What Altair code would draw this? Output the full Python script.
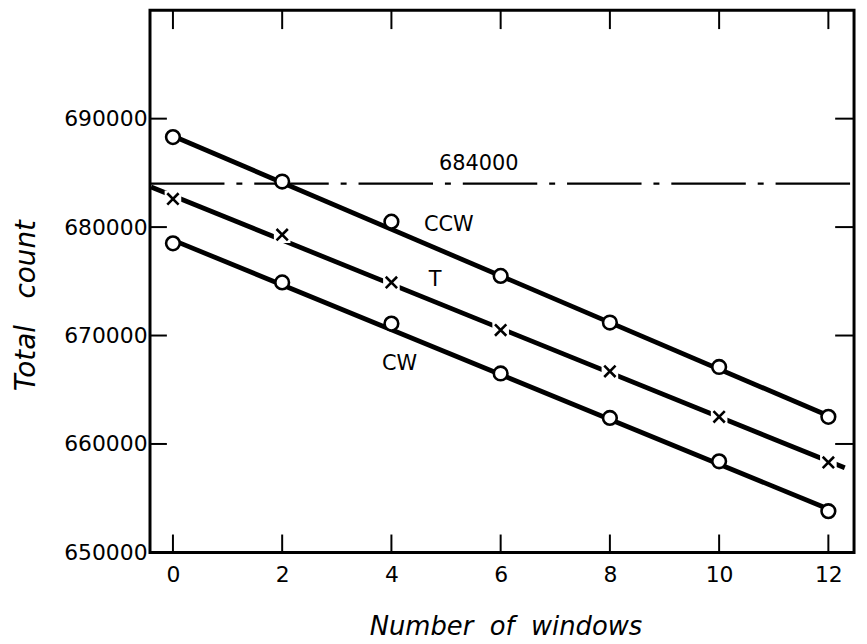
import altair as alt
import pandas as pd

# ---- data ----
windows = [0, 2, 4, 6, 8, 10, 12]
ccw = [688300, 684200, 680500, 675500, 671200, 667100, 662500]
t_vals = [682600, 679300, 674900, 670500, 666700, 662500, 658300]
cw = [678500, 674900, 671100, 666500, 662400, 658400, 653800]

# fitted straight lines (end points)
ccw_fit_x = [0, 12]
ccw_fit_y = [688400, 662600]
t_fit_x = [-0.4, 12.3]
t_fit_y = [683700, 657800]
cw_fit_x = [0, 12]
cw_fit_y = [678800, 654000]

ref_level = [684000]

label_text = ["684000", "CCW", "T", "CW"]
label_x = [5.6, 5.05, 4.8, 4.15]
label_y = [685800, 680200, 675100, 667400]

x_ticks = [0, 2, 4, 6, 8, 10, 12]
y_ticks = [650000, 660000, 670000, 680000, 690000]
y_inner_ticks = [660000, 670000, 680000, 690000]

x_title = "Number\u00a0 of\u00a0 windows"
y_title = "Total\u00a0\u00a0 count"

W, H = 709, 546
FONT = "DejaVu Sans"
xs = alt.Scale(domain=[-0.42, 12.47], nice=False, zero=False)
ys = alt.Scale(domain=[650000, 700000], nice=False, zero=False)

X = alt.X("x:Q", scale=xs, title=x_title,
          axis=alt.Axis(values=x_ticks, format="d", grid=False, domain=False, ticks=False,
                        labelFont=FONT, labelFontSize=22, labelColor="black", labelPadding=12,
                        titleFont=FONT, titleFontSize=26, titleFontStyle="italic",
                        titleFontWeight="normal", titleColor="black",
                        titleX=358, titleY=75, titleBaseline="middle", titleAlign="center"))
Y = alt.Y("y:Q", scale=ys, title=y_title,
          axis=alt.Axis(values=y_ticks, format="d", grid=False, domain=False, ticks=False,
                        labelFont=FONT, labelFontSize=22, labelColor="black", labelPadding=3,
                        titleFont=FONT, titleFontSize=28, titleFontStyle="italic",
                        titleFontWeight="normal", titleColor="black",
                        titleX=-124, titleY=297, titleAngle=270,
                        titleBaseline="middle", titleAlign="center"))

fit_df = pd.DataFrame(
    {"x": ccw_fit_x + t_fit_x + cw_fit_x,
     "y": ccw_fit_y + t_fit_y + cw_fit_y,
     "s": ["CCW"] * 2 + ["T"] * 2 + ["CW"] * 2}
)
circ_df = pd.DataFrame({"x": windows + windows, "y": ccw + cw})
t_df = pd.DataFrame({"x": windows, "y": t_vals})
lab_df = pd.DataFrame({"t": label_text, "x": label_x, "y": label_y})
xt_df = pd.DataFrame({"x": x_ticks})
yt_df = pd.DataFrame({"y": y_inner_ticks})
h_df = pd.DataFrame({"y": ref_level})

hline = alt.Chart(h_df).mark_rule(color="black", strokeWidth=2.2, strokeDash=[75, 12, 6, 12]).encode(
    y=Y, x=alt.value(0), x2=alt.value(W)
)

lines = alt.Chart(fit_df).mark_line(color="black", strokeWidth=4.8, clip=True).encode(
    x=X, y=Y, detail="s:N",
)

gaps = alt.Chart(t_df).mark_point(shape="square", filled=True, color="white", opacity=1, size=280).encode(
    x=X, y=Y
)

crosses = alt.Chart(t_df).mark_point(
    shape="M-1,-1L1,1M1,-1L-1,1", filled=False, color="black", strokeWidth=2.6, size=130, opacity=1
).encode(x=X, y=Y)

circles = alt.Chart(circ_df).mark_point(
    shape="circle", filled=False, fill="white", fillOpacity=1, stroke="black",
    strokeWidth=2.6, size=190, opacity=1
).encode(x=X, y=Y)

labels = alt.Chart(lab_df).mark_text(font=FONT, fontSize=21, color="black", align="center",
                                     baseline="middle").encode(
    x=X, y=Y, text="t:N"
)

bot_ticks = alt.Chart(xt_df).mark_rule(color="black", strokeWidth=2).encode(
    x=X, y=alt.value(H), y2=alt.value(H - 18)
)
top_ticks = alt.Chart(xt_df).mark_rule(color="black", strokeWidth=2).encode(
    x=X, y=alt.value(0), y2=alt.value(19)
)
left_ticks = alt.Chart(yt_df).mark_rule(color="black", strokeWidth=2).encode(
    y=Y, x=alt.value(0), x2=alt.value(17)
)
right_ticks = alt.Chart(yt_df).mark_rule(color="black", strokeWidth=2).encode(
    y=Y, x=alt.value(W), x2=alt.value(W - 19)
)

chart = alt.layer(
    hline, lines, gaps, crosses, circles, labels,
    bot_ticks, top_ticks, left_ticks, right_ticks
).properties(
    width=W, height=H,
    autosize=alt.AutoSizeParams(type="none"),
    padding={"left": 143, "top": 0, "right": 5, "bottom": 88},
    background="white",
).configure_view(stroke="black", strokeWidth=3)

chart.save("out.html", embed_options={"renderer": "svg", "actions": False})
